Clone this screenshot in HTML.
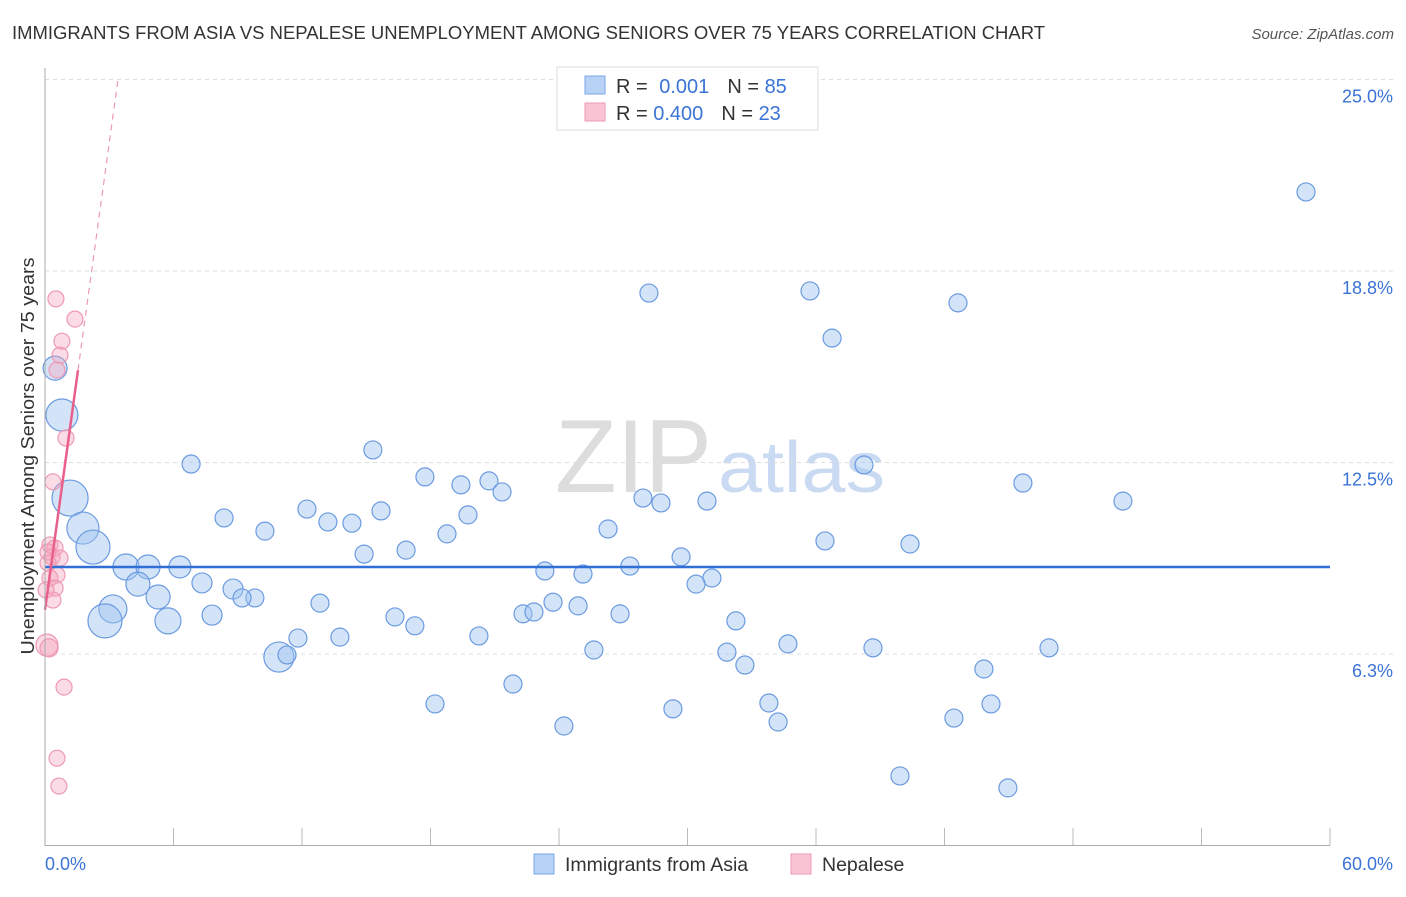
<!DOCTYPE html>
<html><head><meta charset="utf-8"><style>
body{margin:0;background:#fff;font-family:"Liberation Sans",sans-serif;}
svg text{font-family:"Liberation Sans",sans-serif;}
</style></head><body>
<svg id="chart" width="1406" height="892" xmlns="http://www.w3.org/2000/svg">
<text x="12" y="39" font-size="18" textLength="1033" lengthAdjust="spacingAndGlyphs" fill="#333">IMMIGRANTS FROM ASIA VS NEPALESE UNEMPLOYMENT AMONG SENIORS OVER 75 YEARS CORRELATION CHART</text>
<text x="1394" y="39" font-size="15" fill="#555" font-style="italic" text-anchor="end">Source: ZipAtlas.com</text>
<text x="555" y="492" font-size="104" textLength="157" lengthAdjust="spacingAndGlyphs" fill="#ddd" font-family="Liberation Serif">ZIP</text>
<text x="718" y="492" font-size="72" textLength="167" lengthAdjust="spacingAndGlyphs" fill="#c9daf2">atlas</text>
<text transform="translate(34,456) rotate(-90)" font-size="18" textLength="397" lengthAdjust="spacingAndGlyphs" fill="#333" text-anchor="middle">Unemployment Among Seniors over 75 years</text>
<g id="grid"></g><g id="ticks"></g><g id="marks"></g>
<line x1="45" y1="68" x2="45" y2="846" stroke="#aaa"/>
<line x1="45" y1="845.5" x2="1330" y2="845.5" stroke="#aaa"/>
<text x="45" y="870" font-size="18" fill="#3b73d6">0.0%</text>
<text x="1393" y="870" font-size="18" fill="#3b73d6" text-anchor="end">60.0%</text>
<g>
<rect x="557" y="67" width="261" height="63" fill="#fff" stroke="#ddd"/>
<rect x="585" y="76" width="20" height="18" fill="#b8d2f5" stroke="#7aa6e6"/>
<rect x="585" y="103" width="20" height="18" fill="#f9c5d5" stroke="#ef9ab5"/>
<text x="616" y="93" font-size="20" fill="#333">R = <tspan fill="#3b73d6" dx="6">0.001</tspan><tspan dx="18">N = </tspan><tspan fill="#3b73d6">85</tspan></text>
<text x="616" y="120" font-size="20" fill="#333">R = <tspan fill="#3b73d6">0.400</tspan><tspan dx="18">N = </tspan><tspan fill="#3b73d6">23</tspan></text>
</g>
<g>
<rect x="534" y="854" width="20" height="20" fill="#b8d2f5" stroke="#7aa6e6"/>
<text x="565" y="871" font-size="19.5" fill="#333">Immigrants from Asia</text>
<rect x="791" y="854" width="20" height="20" fill="#f9c5d5" stroke="#ef9ab5"/>
<text x="822" y="871" font-size="19.5" fill="#333">Nepalese</text>
</g>
</svg>
<script>
const yTicks=[6.25,12.5,18.75,25];
const yTickLabels=["6.3%","12.5%","18.8%","25.0%"];
const xTicks=[0,6,12,18,24,30,36,42,48,54,60];
const asiaX=[58.88,28.2,35.72,42.63,36.75,0.47,0.79,15.31,6.82,38.24,17.74,19.42,20.73,21.34,45.66,50.33,1.17,27.92,28.76,30.91,12.23,15.69,19.75,8.36,13.21,14.33,1.77,10.27,26.29,18.77,36.42,40.39,2.24,16.86,14.9,29.7,3.78,4.81,6.3,23.34,27.31,25.12,31.14,30.4,4.34,7.33,8.78,9.8,9.2,5.28,12.84,23.72,24.89,3.17,22.32,22.83,7.8,16.34,26.85,2.8,5.74,17.27,32.26,11.81,13.77,20.26,34.69,38.66,46.88,25.63,31.84,10.92,11.3,32.68,43.84,21.85,18.21,33.8,44.17,29.32,42.44,34.23,24.23,39.92,44.96];
const asiaY=[21.33,18.03,18.1,17.71,16.56,15.58,14.05,12.91,12.45,12.42,12.03,11.77,11.9,11.54,11.83,11.24,11.34,11.34,11.18,11.24,10.98,10.92,10.79,10.69,10.56,10.52,10.36,10.26,10.33,10.17,9.94,9.84,9.74,9.64,9.51,9.42,9.09,9.09,9.09,8.96,9.12,8.86,8.73,8.53,8.53,8.57,8.37,8.08,8.08,8.11,7.91,7.94,7.82,7.72,7.56,7.62,7.52,7.46,7.56,7.33,7.33,7.17,7.33,6.77,6.8,6.84,6.58,6.45,6.45,6.38,6.31,6.15,6.22,5.89,5.76,5.27,4.62,4.65,4.62,4.46,4.16,4.03,3.9,2.27,1.88];
const asiaSize=[9,9,9,9,9,12,16,9,9,9,9,9,9,9,9,9,18,9,9,9,9,9,9,9,9,9,16,9,9,9,9,9,17,9,9,9,13,12,11,9,9,9,9,9,12,10,10,9,9,12,9,9,9,14,9,9,10,9,9,17,13,9,9,9,9,9,9,9,9,9,9,15,9,9,9,9,9,9,9,9,9,9,9,9,9];
const nepX=[0.51,1.4,0.79,0.7,0.56,0.98,0.37,0.23,0.47,0.33,0.7,0.14,0.56,0.23,0.47,0.37,0.09,0.19,0.89,0.56,0.65,0.14,0.05];
const nepY=[17.84,17.18,16.46,16.0,15.52,13.3,11.87,9.81,9.71,9.42,9.38,9.22,8.83,8.73,8.4,8.01,6.54,6.45,5.17,2.85,1.94,9.58,8.34];
const nepSize=[8,8,8,8,8,8,8,8,8,8,8,8,8,8,8,8,11,9,8,8,8,8,8];
const asiaTrend=[9.09,9.09];
const nepTrendIntercept=7.69, nepTrendSlope=5.08;
const X=v=>45+v*1285/60, Y=v=>845.5-v*30.64;
const NS="http://www.w3.org/2000/svg";
function mk(tag,attrs,parent){const e=document.createElementNS(NS,tag);for(const k in attrs)e.setAttribute(k,attrs[k]);parent.appendChild(e);return e;}
const grid=document.getElementById('grid'),ticks=document.getElementById('ticks'),marks=document.getElementById('marks');
yTicks.forEach((t,i)=>{
 const l=mk('line',{x1:45,x2:1393,y1:Y(t),y2:Y(t),stroke:'#ddd','stroke-dasharray':'4,4'},grid);
 
 
 const tx=mk('text',{x:1393,y:Y(t)+23,'font-size':18,fill:'#3b73d6','text-anchor':'end'},ticks);
 tx.textContent=yTickLabels[i];
 
 
});
xTicks.forEach(t=>{
 const l=mk('line',{x1:X(t),x2:X(t),y1:828,y2:845.5,stroke:'#bbb'},ticks);
 
 
});
asiaX.forEach((x,i)=>{
 const c=mk('circle',{cx:X(x),cy:Y(asiaY[i]),r:asiaSize[i],fill:'rgba(160,195,240,0.45)',stroke:'#6b9be0','stroke-width':1.2},marks);
 
 
});
nepX.forEach((x,i)=>{
 const c=mk('circle',{cx:X(x),cy:Y(nepY[i]),r:nepSize[i],fill:'rgba(245,165,190,0.4)',stroke:'#ee9ab4','stroke-width':1.2},marks);
 
 
});
const bl=mk('line',{x1:X(0),x2:X(60),y1:Y(asiaTrend[0]),y2:Y(asiaTrend[1]),stroke:'#2f6fd6','stroke-width':2.5},marks);


const xEnd=1.54, xDash=(25-nepTrendIntercept)/nepTrendSlope;
const pl=mk('line',{x1:X(0),x2:X(xEnd),y1:Y(nepTrendIntercept),y2:Y(nepTrendIntercept+nepTrendSlope*xEnd),stroke:'#e8608a','stroke-width':2.5},marks);


const pd=mk('line',{x1:X(xEnd),x2:X(xDash),y1:Y(nepTrendIntercept+nepTrendSlope*xEnd),y2:Y(25),stroke:'#eb9ab3','stroke-width':1.2,'stroke-dasharray':'6,5'},marks);


</script>
</body></html>
